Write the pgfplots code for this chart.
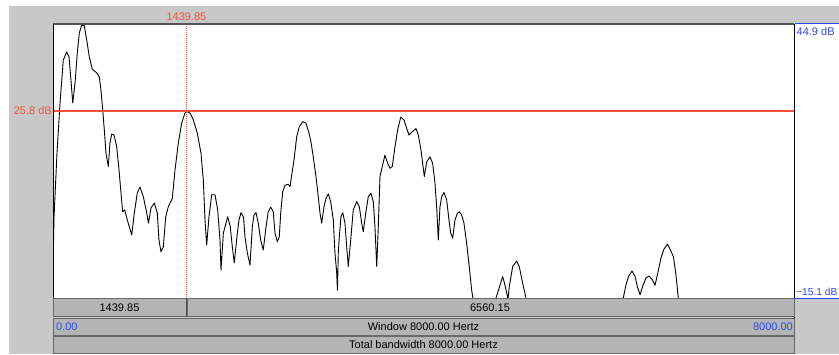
\documentclass[border=0pt]{standalone}
\usepackage{pgfplots}
\pgfplotsset{compat=1.18}
\usepackage{fontspec}
\setmainfont{Liberation Sans}

\definecolor{panel}{RGB}{200,200,200}
\definecolor{barfill}{RGB}{180,180,180}
\definecolor{barline}{RGB}{105,105,105}
\definecolor{topline}{RGB}{85,85,85}
\definecolor{cursorred}{RGB}{250,82,58}
\definecolor{scaleblue}{RGB}{45,75,240}

% Spectrum: frequency (Hz) against sound pressure level (dB)
\pgfplotstableread{
f dB
0 -9.0
11 2.6
43 16.6
76 27.6
111 37.0
148 38.8
173 37.7
194 32.6
213 27.6
238 32.0
262 38.5
284 42.9
310 44.7
338 44.5
364 41.4
392 37.7
424 35.0
472 34.2
500 33.3
518 30.4
537 26.1
554 21.7
572 16.6
597 13.7
615 18.8
634 20.8
659 20.6
688 18.0
713 12.9
734 7.9
752 3.8
774 4.2
802 2.0
850 -1.3
878 3.5
910 7.9
939 9.2
975 7.1
1012 3.5
1031 1.3
1058 4.6
1094 5.7
1126 3.5
1144 -2.4
1166 -5.0
1191 -3.9
1217 2.7
1245 4.9
1288 6.7
1317 12.9
1353 18.8
1389 23.2
1425 25.4
1439.85 25.8
1479 25.4
1515 23.9
1558 21.0
1598 16.6
1623 10.7
1641 2.0
1659 -3.5
1684 2.7
1713 7.5
1749 7.5
1778 4.2
1803 -2.4
1814 -9.0
1839 -0.9
1886 2.7
1914 0.5
1936 -3.9
1957 -7.4
1986 -1.7
2008 2.0
2030 3.6
2057 2.6
2073 -1.7
2098 -5.2
2127 -7.9
2152 0.5
2170 3.1
2192 3.6
2216 1.3
2242 -2.4
2270 -4.6
2300 0.5
2324 3.8
2350 4.8
2378 3.8
2397 -0.9
2422 -2.8
2443 -1.7
2458 3.4
2480 8.2
2505 9.6
2540 9.8
2559 9.3
2577 11.8
2602 15.1
2631 20.2
2659 22.4
2696 23.5
2731 23.2
2764 21.0
2785 19.1
2810 15.8
2839 11.5
2864 7.1
2883 3.4
2901 1.3
2926 4.9
2947 6.7
2972 7.7
2998 6.0
3026 2.0
3044 -5.2
3063 -9.6
3071 -13.4
3080 -5.2
3091 -1.7
3109 2.7
3128 3.6
3152 1.3
3171 -3.9
3188 -8.2
3214 -2.4
3242 4.2
3279 6.0
3307 4.9
3333 1.3
3350 -0.6
3376 3.4
3404 7.1
3433 7.8
3458 6.0
3476 0.5
3495 -8.2
3512 0.5
3530 11.5
3555 13.7
3584 16.2
3613 14.4
3638 13.3
3663 13.7
3692 18.0
3721 21.7
3754 24.5
3789 23.9
3818 22.1
3843 20.6
3879 21.3
3919 22.0
3944 20.6
3973 17.3
3991 14.4
4009 11.5
4034 14.7
4070 15.8
4099 14.4
4124 10.0
4142 4.9
4160 -2.4
4178 4.9
4196 7.1
4221 8.0
4250 6.4
4275 2.0
4294 -0.9
4315 -2.0
4340 2.0
4365 3.4
4386 3.8
4412 3.1
4437 1.3
4466 -3.1
4494 -8.2
4520 -13.4
4545 -16.6
4600 -20.0
4720 -20.0
4761 -16.6
4783 -15.1
4826 -12.3
4855 -10.4
4880 -12.3
4905 -14.6
4912 -15.5
4926 -12.6
4963 -8.2
5006 -7.0
5034 -8.2
5071 -11.9
5107 -15.1
5128 -17.3
5200 -20.0
6100 -20.0
6132 -17.3
6157 -15.1
6185 -12.3
6213 -10.4
6251 -9.2
6283 -10.3
6310 -12.7
6338 -14.4
6370 -12.3
6403 -10.7
6435 -10.3
6467 -11.0
6500 -12.3
6532 -9.4
6564 -6.3
6596 -4.4
6634 -3.3
6666 -4.6
6699 -6.1
6726 -10.1
6751 -15.1
6769 -17.3
6850 -20.0
8000 -20.0
}\spectrum

\begin{document}
\fontsize{11}{13}\selectfont
\begin{tikzpicture}
\useasboundingbox (0pt,0pt) rectangle (839pt,354pt);

% window background and vertical cursor (pixel-style coordinates, y downward)
\begin{scope}[x=1pt,y=-1pt,shift={(0pt,354pt)}]
  \fill[white] (0,0) rectangle (839,354);
  \fill[panel] (9,6) rectangle (839,354);
  \fill[white] (53,24) rectangle (839,298);
  \draw[draw=cursorred, line width=1pt, dash pattern=on 1pt off 1pt]
    (186.4,24) -- (186.4,298);
\end{scope}

\begin{axis}[
  at={(53pt,56pt)}, anchor=south west,
  scale only axis, width=741pt, height=274pt,
  xmin=0, xmax=8000, ymin=-15.1, ymax=44.9,
  axis lines=none, ticks=none, clip=true,
]
  \addplot[color=black, line width=0.9pt, mark=none, line join=round]
    table[x=f, y=dB] {\spectrum};
\end{axis}

\begin{scope}[x=1pt,y=-1pt,shift={(0pt,354pt)}]
  % horizontal cursor at 25.8 dB
  \fill[cursorred] (53,110.5) rectangle (794,112);

  % frame of the drawing area
  \draw[topline, line width=2pt] (53,24.3) -- (794,24.3);
  \draw[black, line width=1pt] (53,24) -- (53,298);
  \draw[black, line width=1pt] (53,298) -- (794,298);
  \draw[black, line width=1pt] (794.5,24) -- (794.5,354);
  \draw[scaleblue, line width=1pt] (795,24) -- (839,24);
  \draw[scaleblue, line width=1pt] (795,298) -- (839,298);

  % bars under the drawing area
  \draw[barline, fill=barfill, line width=1pt] (53.5,298.5) rectangle (186,316.5);
  \draw[barline, fill=barfill, line width=1pt] (187,298.5) rectangle (794,316.5);
  \draw[barline, fill=barfill, line width=1pt] (53.5,318) rectangle (794,335);
  \draw[barline, fill=barfill, line width=1pt] (53.5,336.5) rectangle (794,353);
  \draw[black!70, line width=1.2pt] (186.6,298) -- (186.6,317);

  \node[inner sep=0pt, black] at (119.5,307.5) {1439.85};
  \node[inner sep=0pt, black] at (490,307.5) {6560.15};
  \node[inner sep=0pt, scaleblue, anchor=west] at (56,326.5) {0.00};
  \node[inner sep=0pt, black] at (423.5,326.5) {Window 8000.00 Hertz};
  \node[inner sep=0pt, scaleblue, anchor=east] at (793,326.5) {8000.00};
  \node[inner sep=0pt, black] at (423.5,344.8) {Total bandwidth 8000.00 Hertz};

  % cursor and range labels
  \node[inner sep=0pt, text=cursorred] at (186.4,16.5) {1439.85};
  \node[inner sep=0pt, text=cursorred, anchor=east] at (52,110.5) {25.8 dB};
  \node[inner sep=0pt, scaleblue, anchor=west] at (796.5,31.5) {44.9 dB};
  \node[inner sep=0pt, scaleblue, anchor=west, font=\fontsize{10.2}{12}\selectfont]
    at (796,291.5) {−15.1 dB};
\end{scope}
\end{tikzpicture}
\end{document}
